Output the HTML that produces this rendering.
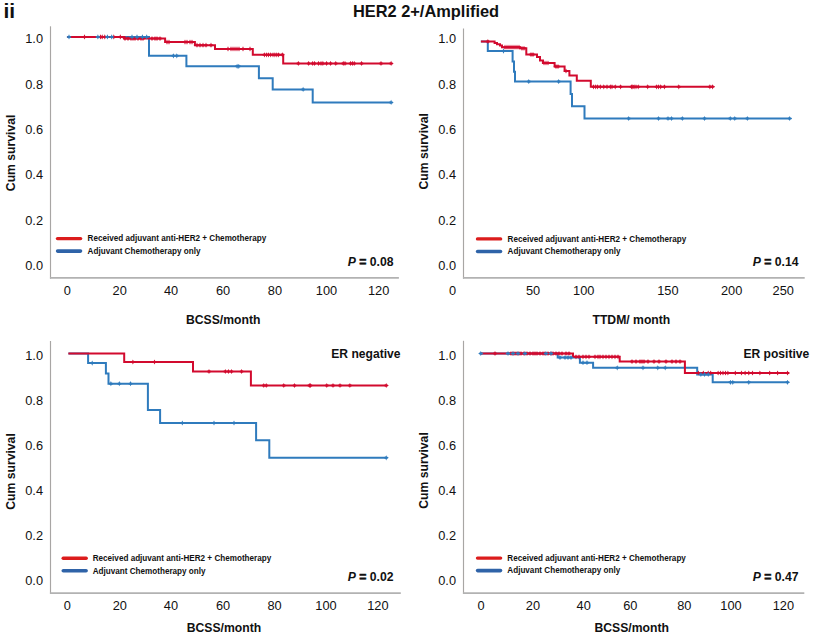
<!DOCTYPE html>
<html><head><meta charset="utf-8"><title>HER2 2+/Amplified</title><style>
html,body{margin:0;padding:0;background:#fff;width:813px;height:636px;overflow:hidden;}
svg{display:block;}
text{font-family:"Liberation Sans", Arial, Helvetica, sans-serif;fill:#111;}
.tk{font-size:12.8px;}
.at{font-size:12.2px;font-weight:bold;}
.lg{font-size:8.15px;font-weight:bold;}
.pv{font-size:12.2px;font-weight:bold;} .eq{stroke:#111;stroke-width:0.55px;}
.sub{font-size:12.1px;font-weight:bold;}
.ttl{font-size:16.4px;font-weight:bold;}
.ii{font-size:21px;font-weight:bold;}
</style></head><body>
<svg width="813" height="636" viewBox="0 0 813 636">
<rect width="813" height="636" fill="#fff"/>
<text x="3.5" y="18" class="ii">ii</text>
<text x="426" y="16.7" text-anchor="middle" class="ttl">HER2 2+/Amplified</text>
<path d="M50.50 26.30V278.70" fill="none" stroke="#a8a6a4" stroke-width="1.15"/>
<path d="M49.95 277.90H398.90" fill="none" stroke="#b2b2b2" stroke-width="1.6"/>
<text x="43.0" y="43.4" text-anchor="end" class="tk">1.0</text>
<text x="43.0" y="88.7" text-anchor="end" class="tk">0.8</text>
<text x="43.0" y="134.0" text-anchor="end" class="tk">0.6</text>
<text x="43.0" y="179.3" text-anchor="end" class="tk">0.4</text>
<text x="43.0" y="224.6" text-anchor="end" class="tk">0.2</text>
<text x="43.0" y="269.9" text-anchor="end" class="tk">0.0</text>
<text x="67.3" y="295.2" text-anchor="middle" class="tk">0</text>
<text x="119.7" y="295.2" text-anchor="middle" class="tk">20</text>
<text x="171.1" y="295.2" text-anchor="middle" class="tk">40</text>
<text x="223.0" y="295.2" text-anchor="middle" class="tk">60</text>
<text x="274.9" y="295.2" text-anchor="middle" class="tk">80</text>
<text x="326.5" y="295.2" text-anchor="middle" class="tk">100</text>
<text x="378.6" y="295.2" text-anchor="middle" class="tk">120</text>
<text transform="translate(15.3 152.9) rotate(-90)" text-anchor="middle" class="at">Cum survival</text>
<text x="223.2" y="323.9" text-anchor="middle" class="at">BCSS/month</text>
<path d="M57.5 238.6H80.6" stroke="#dc1c1c" stroke-width="3.4" stroke-linecap="round"/>
<path d="M57.6 251.1H80.5" stroke="#2f63a8" stroke-width="3.6" stroke-linecap="round"/>
<text x="87.6" y="241.3" class="lg">Received adjuvant anti-HER2 + Chemotherapy</text>
<text x="87.6" y="253.8" class="lg">Adjuvant Chemotherapy only</text>
<text x="393.5" y="265.6" text-anchor="end" class="pv"><tspan font-style="italic">P</tspan> <tspan class="eq">=</tspan> 0.08</text>
<path d="M67.2 36.9 L149.0 36.9 L149.0 55.8 L186.4 55.8 L186.4 66.3 L258.9 66.3 L258.9 78.2 L272.7 78.2 L272.7 89.4 L312.7 89.4 L312.7 102.4 L391.1 102.4" fill="none" stroke="#2f7bbd" stroke-width="2" stroke-linejoin="miter" stroke-linecap="butt"/>
<path d="M67.2 36.9 L124.3 36.9 L124.3 38.6 L165.1 38.6 L165.1 42.1 L194.9 42.1 L194.9 45.2 L215.0 45.2 L215.0 48.9 L252.8 48.9 L252.8 54.8 L283.2 54.8 L283.2 63.4 L391.1 63.4" fill="none" stroke="#d20a2e" stroke-width="2" stroke-linejoin="miter" stroke-linecap="butt"/>
<path d="M84.50 34.30 85.25 35.90 85.80 35.90 87.00 36.90 85.80 37.90 85.25 37.90 84.50 39.50 83.75 37.90 83.20 37.90 82.00 36.90 83.20 35.90 83.75 35.90ZM100.50 34.30 101.25 35.90 101.80 35.90 103.00 36.90 101.80 37.90 101.25 37.90 100.50 39.50 99.75 37.90 99.20 37.90 98.00 36.90 99.20 35.90 99.75 35.90ZM102.20 34.30 102.95 35.90 103.50 35.90 104.70 36.90 103.50 37.90 102.95 37.90 102.20 39.50 101.45 37.90 100.90 37.90 99.70 36.90 100.90 35.90 101.45 35.90ZM104.80 34.30 105.55 35.90 106.10 35.90 107.30 36.90 106.10 37.90 105.55 37.90 104.80 39.50 104.05 37.90 103.50 37.90 102.30 36.90 103.50 35.90 104.05 35.90ZM113.80 34.30 114.55 35.90 115.10 35.90 116.30 36.90 115.10 37.90 114.55 37.90 113.80 39.50 113.05 37.90 112.50 37.90 111.30 36.90 112.50 35.90 113.05 35.90ZM120.30 34.30 121.05 35.90 121.60 35.90 122.80 36.90 121.60 37.90 121.05 37.90 120.30 39.50 119.55 37.90 119.00 37.90 117.80 36.90 119.00 35.90 119.55 35.90ZM125.00 36.00 125.75 37.60 126.30 37.60 127.50 38.60 126.30 39.60 125.75 39.60 125.00 41.20 124.25 39.60 123.70 39.60 122.50 38.60 123.70 37.60 124.25 37.60ZM128.00 36.00 128.75 37.60 129.30 37.60 130.50 38.60 129.30 39.60 128.75 39.60 128.00 41.20 127.25 39.60 126.70 39.60 125.50 38.60 126.70 37.60 127.25 37.60ZM131.00 36.00 131.75 37.60 132.30 37.60 133.50 38.60 132.30 39.60 131.75 39.60 131.00 41.20 130.25 39.60 129.70 39.60 128.50 38.60 129.70 37.60 130.25 37.60ZM133.00 36.00 133.75 37.60 134.30 37.60 135.50 38.60 134.30 39.60 133.75 39.60 133.00 41.20 132.25 39.60 131.70 39.60 130.50 38.60 131.70 37.60 132.25 37.60ZM135.00 36.00 135.75 37.60 136.30 37.60 137.50 38.60 136.30 39.60 135.75 39.60 135.00 41.20 134.25 39.60 133.70 39.60 132.50 38.60 133.70 37.60 134.25 37.60ZM138.00 36.00 138.75 37.60 139.30 37.60 140.50 38.60 139.30 39.60 138.75 39.60 138.00 41.20 137.25 39.60 136.70 39.60 135.50 38.60 136.70 37.60 137.25 37.60ZM141.00 36.00 141.75 37.60 142.30 37.60 143.50 38.60 142.30 39.60 141.75 39.60 141.00 41.20 140.25 39.60 139.70 39.60 138.50 38.60 139.70 37.60 140.25 37.60ZM143.00 36.00 143.75 37.60 144.30 37.60 145.50 38.60 144.30 39.60 143.75 39.60 143.00 41.20 142.25 39.60 141.70 39.60 140.50 38.60 141.70 37.60 142.25 37.60ZM152.00 36.00 152.75 37.60 153.30 37.60 154.50 38.60 153.30 39.60 152.75 39.60 152.00 41.20 151.25 39.60 150.70 39.60 149.50 38.60 150.70 37.60 151.25 37.60ZM155.00 36.00 155.75 37.60 156.30 37.60 157.50 38.60 156.30 39.60 155.75 39.60 155.00 41.20 154.25 39.60 153.70 39.60 152.50 38.60 153.70 37.60 154.25 37.60ZM157.00 36.00 157.75 37.60 158.30 37.60 159.50 38.60 158.30 39.60 157.75 39.60 157.00 41.20 156.25 39.60 155.70 39.60 154.50 38.60 155.70 37.60 156.25 37.60ZM160.00 36.00 160.75 37.60 161.30 37.60 162.50 38.60 161.30 39.60 160.75 39.60 160.00 41.20 159.25 39.60 158.70 39.60 157.50 38.60 158.70 37.60 159.25 37.60ZM167.00 39.50 167.75 41.10 168.30 41.10 169.50 42.10 168.30 43.10 167.75 43.10 167.00 44.70 166.25 43.10 165.70 43.10 164.50 42.10 165.70 41.10 166.25 41.10ZM169.00 39.50 169.75 41.10 170.30 41.10 171.50 42.10 170.30 43.10 169.75 43.10 169.00 44.70 168.25 43.10 167.70 43.10 166.50 42.10 167.70 41.10 168.25 41.10ZM185.00 39.50 185.75 41.10 186.30 41.10 187.50 42.10 186.30 43.10 185.75 43.10 185.00 44.70 184.25 43.10 183.70 43.10 182.50 42.10 183.70 41.10 184.25 41.10ZM187.00 39.50 187.75 41.10 188.30 41.10 189.50 42.10 188.30 43.10 187.75 43.10 187.00 44.70 186.25 43.10 185.70 43.10 184.50 42.10 185.70 41.10 186.25 41.10ZM190.00 39.50 190.75 41.10 191.30 41.10 192.50 42.10 191.30 43.10 190.75 43.10 190.00 44.70 189.25 43.10 188.70 43.10 187.50 42.10 188.70 41.10 189.25 41.10ZM192.00 39.50 192.75 41.10 193.30 41.10 194.50 42.10 193.30 43.10 192.75 43.10 192.00 44.70 191.25 43.10 190.70 43.10 189.50 42.10 190.70 41.10 191.25 41.10ZM197.00 42.60 197.75 44.20 198.30 44.20 199.50 45.20 198.30 46.20 197.75 46.20 197.00 47.80 196.25 46.20 195.70 46.20 194.50 45.20 195.70 44.20 196.25 44.20ZM200.00 42.60 200.75 44.20 201.30 44.20 202.50 45.20 201.30 46.20 200.75 46.20 200.00 47.80 199.25 46.20 198.70 46.20 197.50 45.20 198.70 44.20 199.25 44.20ZM203.00 42.60 203.75 44.20 204.30 44.20 205.50 45.20 204.30 46.20 203.75 46.20 203.00 47.80 202.25 46.20 201.70 46.20 200.50 45.20 201.70 44.20 202.25 44.20ZM206.00 42.60 206.75 44.20 207.30 44.20 208.50 45.20 207.30 46.20 206.75 46.20 206.00 47.80 205.25 46.20 204.70 46.20 203.50 45.20 204.70 44.20 205.25 44.20ZM211.00 42.60 211.75 44.20 212.30 44.20 213.50 45.20 212.30 46.20 211.75 46.20 211.00 47.80 210.25 46.20 209.70 46.20 208.50 45.20 209.70 44.20 210.25 44.20ZM228.00 46.30 228.75 47.90 229.30 47.90 230.50 48.90 229.30 49.90 228.75 49.90 228.00 51.50 227.25 49.90 226.70 49.90 225.50 48.90 226.70 47.90 227.25 47.90ZM231.00 46.30 231.75 47.90 232.30 47.90 233.50 48.90 232.30 49.90 231.75 49.90 231.00 51.50 230.25 49.90 229.70 49.90 228.50 48.90 229.70 47.90 230.25 47.90ZM233.00 46.30 233.75 47.90 234.30 47.90 235.50 48.90 234.30 49.90 233.75 49.90 233.00 51.50 232.25 49.90 231.70 49.90 230.50 48.90 231.70 47.90 232.25 47.90ZM235.00 46.30 235.75 47.90 236.30 47.90 237.50 48.90 236.30 49.90 235.75 49.90 235.00 51.50 234.25 49.90 233.70 49.90 232.50 48.90 233.70 47.90 234.25 47.90ZM237.00 46.30 237.75 47.90 238.30 47.90 239.50 48.90 238.30 49.90 237.75 49.90 237.00 51.50 236.25 49.90 235.70 49.90 234.50 48.90 235.70 47.90 236.25 47.90ZM239.00 46.30 239.75 47.90 240.30 47.90 241.50 48.90 240.30 49.90 239.75 49.90 239.00 51.50 238.25 49.90 237.70 49.90 236.50 48.90 237.70 47.90 238.25 47.90ZM243.00 46.30 243.75 47.90 244.30 47.90 245.50 48.90 244.30 49.90 243.75 49.90 243.00 51.50 242.25 49.90 241.70 49.90 240.50 48.90 241.70 47.90 242.25 47.90ZM250.00 46.30 250.75 47.90 251.30 47.90 252.50 48.90 251.30 49.90 250.75 49.90 250.00 51.50 249.25 49.90 248.70 49.90 247.50 48.90 248.70 47.90 249.25 47.90ZM264.40 52.20 265.15 53.80 265.70 53.80 266.90 54.80 265.70 55.80 265.15 55.80 264.40 57.40 263.65 55.80 263.10 55.80 261.90 54.80 263.10 53.80 263.65 53.80ZM266.60 52.20 267.35 53.80 267.90 53.80 269.10 54.80 267.90 55.80 267.35 55.80 266.60 57.40 265.85 55.80 265.30 55.80 264.10 54.80 265.30 53.80 265.85 53.80ZM268.50 52.20 269.25 53.80 269.80 53.80 271.00 54.80 269.80 55.80 269.25 55.80 268.50 57.40 267.75 55.80 267.20 55.80 266.00 54.80 267.20 53.80 267.75 53.80ZM270.70 52.20 271.45 53.80 272.00 53.80 273.20 54.80 272.00 55.80 271.45 55.80 270.70 57.40 269.95 55.80 269.40 55.80 268.20 54.80 269.40 53.80 269.95 53.80ZM273.00 52.20 273.75 53.80 274.30 53.80 275.50 54.80 274.30 55.80 273.75 55.80 273.00 57.40 272.25 55.80 271.70 55.80 270.50 54.80 271.70 53.80 272.25 53.80ZM274.90 52.20 275.65 53.80 276.20 53.80 277.40 54.80 276.20 55.80 275.65 55.80 274.90 57.40 274.15 55.80 273.60 55.80 272.40 54.80 273.60 53.80 274.15 53.80ZM276.80 52.20 277.55 53.80 278.10 53.80 279.30 54.80 278.10 55.80 277.55 55.80 276.80 57.40 276.05 55.80 275.50 55.80 274.30 54.80 275.50 53.80 276.05 53.80ZM278.60 52.20 279.35 53.80 279.90 53.80 281.10 54.80 279.90 55.80 279.35 55.80 278.60 57.40 277.85 55.80 277.30 55.80 276.10 54.80 277.30 53.80 277.85 53.80ZM282.30 52.20 283.05 53.80 283.60 53.80 284.80 54.80 283.60 55.80 283.05 55.80 282.30 57.40 281.55 55.80 281.00 55.80 279.80 54.80 281.00 53.80 281.55 53.80ZM298.30 60.80 299.05 62.40 299.60 62.40 300.80 63.40 299.60 64.40 299.05 64.40 298.30 66.00 297.55 64.40 297.00 64.40 295.80 63.40 297.00 62.40 297.55 62.40ZM308.70 60.80 309.45 62.40 310.00 62.40 311.20 63.40 310.00 64.40 309.45 64.40 308.70 66.00 307.95 64.40 307.40 64.40 306.20 63.40 307.40 62.40 307.95 62.40ZM312.70 60.80 313.45 62.40 314.00 62.40 315.20 63.40 314.00 64.40 313.45 64.40 312.70 66.00 311.95 64.40 311.40 64.40 310.20 63.40 311.40 62.40 311.95 62.40ZM314.60 60.80 315.35 62.40 315.90 62.40 317.10 63.40 315.90 64.40 315.35 64.40 314.60 66.00 313.85 64.40 313.30 64.40 312.10 63.40 313.30 62.40 313.85 62.40ZM318.60 60.80 319.35 62.40 319.90 62.40 321.10 63.40 319.90 64.40 319.35 64.40 318.60 66.00 317.85 64.40 317.30 64.40 316.10 63.40 317.30 62.40 317.85 62.40ZM321.00 60.80 321.75 62.40 322.30 62.40 323.50 63.40 322.30 64.40 321.75 64.40 321.00 66.00 320.25 64.40 319.70 64.40 318.50 63.40 319.70 62.40 320.25 62.40ZM322.90 60.80 323.65 62.40 324.20 62.40 325.40 63.40 324.20 64.40 323.65 64.40 322.90 66.00 322.15 64.40 321.60 64.40 320.40 63.40 321.60 62.40 322.15 62.40ZM326.60 60.80 327.35 62.40 327.90 62.40 329.10 63.40 327.90 64.40 327.35 64.40 326.60 66.00 325.85 64.40 325.30 64.40 324.10 63.40 325.30 62.40 325.85 62.40ZM330.60 60.80 331.35 62.40 331.90 62.40 333.10 63.40 331.90 64.40 331.35 64.40 330.60 66.00 329.85 64.40 329.30 64.40 328.10 63.40 329.30 62.40 329.85 62.40ZM335.80 60.80 336.55 62.40 337.10 62.40 338.30 63.40 337.10 64.40 336.55 64.40 335.80 66.00 335.05 64.40 334.50 64.40 333.30 63.40 334.50 62.40 335.05 62.40ZM343.20 60.80 343.95 62.40 344.50 62.40 345.70 63.40 344.50 64.40 343.95 64.40 343.20 66.00 342.45 64.40 341.90 64.40 340.70 63.40 341.90 62.40 342.45 62.40ZM345.00 60.80 345.75 62.40 346.30 62.40 347.50 63.40 346.30 64.40 345.75 64.40 345.00 66.00 344.25 64.40 343.70 64.40 342.50 63.40 343.70 62.40 344.25 62.40ZM350.60 60.80 351.35 62.40 351.90 62.40 353.10 63.40 351.90 64.40 351.35 64.40 350.60 66.00 349.85 64.40 349.30 64.40 348.10 63.40 349.30 62.40 349.85 62.40ZM352.40 60.80 353.15 62.40 353.70 62.40 354.90 63.40 353.70 64.40 353.15 64.40 352.40 66.00 351.65 64.40 351.10 64.40 349.90 63.40 351.10 62.40 351.65 62.40ZM354.20 60.80 354.95 62.40 355.50 62.40 356.70 63.40 355.50 64.40 354.95 64.40 354.20 66.00 353.45 64.40 352.90 64.40 351.70 63.40 352.90 62.40 353.45 62.40ZM361.60 60.80 362.35 62.40 362.90 62.40 364.10 63.40 362.90 64.40 362.35 64.40 361.60 66.00 360.85 64.40 360.30 64.40 359.10 63.40 360.30 62.40 360.85 62.40ZM381.00 60.80 381.75 62.40 382.30 62.40 383.50 63.40 382.30 64.40 381.75 64.40 381.00 66.00 380.25 64.40 379.70 64.40 378.50 63.40 379.70 62.40 380.25 62.40ZM391.10 60.80 391.85 62.40 392.40 62.40 393.60 63.40 392.40 64.40 391.85 64.40 391.10 66.00 390.35 64.40 389.80 64.40 388.60 63.40 389.80 62.40 390.35 62.40Z" fill="#d20a2e"/>
<path d="M69.00 34.30 69.75 35.90 70.30 35.90 71.50 36.90 70.30 37.90 69.75 37.90 69.00 39.50 68.25 37.90 67.70 37.90 66.50 36.90 67.70 35.90 68.25 35.90ZM97.90 34.30 98.65 35.90 99.20 35.90 100.40 36.90 99.20 37.90 98.65 37.90 97.90 39.50 97.15 37.90 96.60 37.90 95.40 36.90 96.60 35.90 97.15 35.90ZM107.40 34.30 108.15 35.90 108.70 35.90 109.90 36.90 108.70 37.90 108.15 37.90 107.40 39.50 106.65 37.90 106.10 37.90 104.90 36.90 106.10 35.90 106.65 35.90ZM111.70 34.30 112.45 35.90 113.00 35.90 114.20 36.90 113.00 37.90 112.45 37.90 111.70 39.50 110.95 37.90 110.40 37.90 109.20 36.90 110.40 35.90 110.95 35.90ZM132.00 34.30 132.75 35.90 133.30 35.90 134.50 36.90 133.30 37.90 132.75 37.90 132.00 39.50 131.25 37.90 130.70 37.90 129.50 36.90 130.70 35.90 131.25 35.90ZM137.00 34.30 137.75 35.90 138.30 35.90 139.50 36.90 138.30 37.90 137.75 37.90 137.00 39.50 136.25 37.90 135.70 37.90 134.50 36.90 135.70 35.90 136.25 35.90ZM142.40 34.30 143.15 35.90 143.70 35.90 144.90 36.90 143.70 37.90 143.15 37.90 142.40 39.50 141.65 37.90 141.10 37.90 139.90 36.90 141.10 35.90 141.65 35.90ZM146.70 34.30 147.45 35.90 148.00 35.90 149.20 36.90 148.00 37.90 147.45 37.90 146.70 39.50 145.95 37.90 145.40 37.90 144.20 36.90 145.40 35.90 145.95 35.90ZM173.40 53.20 174.15 54.80 174.70 54.80 175.90 55.80 174.70 56.80 174.15 56.80 173.40 58.40 172.65 56.80 172.10 56.80 170.90 55.80 172.10 54.80 172.65 54.80ZM176.80 53.20 177.55 54.80 178.10 54.80 179.30 55.80 178.10 56.80 177.55 56.80 176.80 58.40 176.05 56.80 175.50 56.80 174.30 55.80 175.50 54.80 176.05 54.80ZM237.10 63.70 237.85 65.30 238.40 65.30 239.60 66.30 238.40 67.30 237.85 67.30 237.10 68.90 236.35 67.30 235.80 67.30 234.60 66.30 235.80 65.30 236.35 65.30ZM238.80 63.70 239.55 65.30 240.10 65.30 241.30 66.30 240.10 67.30 239.55 67.30 238.80 68.90 238.05 67.30 237.50 67.30 236.30 66.30 237.50 65.30 238.05 65.30ZM303.10 86.80 303.85 88.40 304.40 88.40 305.60 89.40 304.40 90.40 303.85 90.40 303.10 92.00 302.35 90.40 301.80 90.40 300.60 89.40 301.80 88.40 302.35 88.40ZM391.10 99.80 391.85 101.40 392.40 101.40 393.60 102.40 392.40 103.40 391.85 103.40 391.10 105.00 390.35 103.40 389.80 103.40 388.60 102.40 389.80 101.40 390.35 101.40Z" fill="#2f7bbd"/>
<path d="M463.50 28.50V278.70" fill="none" stroke="#a8a6a4" stroke-width="1.15"/>
<path d="M462.95 277.90H804.70" fill="none" stroke="#b2b2b2" stroke-width="1.6"/>
<text x="456.0" y="43.4" text-anchor="end" class="tk">1.0</text>
<text x="456.0" y="88.7" text-anchor="end" class="tk">0.8</text>
<text x="456.0" y="134.0" text-anchor="end" class="tk">0.6</text>
<text x="456.0" y="179.3" text-anchor="end" class="tk">0.4</text>
<text x="456.0" y="224.6" text-anchor="end" class="tk">0.2</text>
<text x="456.0" y="269.9" text-anchor="end" class="tk">0.0</text>
<text x="452.6" y="295.3" text-anchor="middle" class="tk">0</text>
<text x="533.0" y="295.3" text-anchor="middle" class="tk">50</text>
<text x="583.7" y="295.3" text-anchor="middle" class="tk">100</text>
<text x="667.9" y="295.3" text-anchor="middle" class="tk">150</text>
<text x="731.6" y="295.3" text-anchor="middle" class="tk">200</text>
<text x="783.2" y="295.3" text-anchor="middle" class="tk">250</text>
<text transform="translate(428.3 151.3) rotate(-90)" text-anchor="middle" class="at">Cum survival</text>
<text x="631.4" y="323.7" text-anchor="middle" class="at">TTDM/ month</text>
<path d="M477.5 238.9H500.6" stroke="#dc1c1c" stroke-width="3.4" stroke-linecap="round"/>
<path d="M477.6 251.5H500.5" stroke="#2f63a8" stroke-width="3.6" stroke-linecap="round"/>
<text x="507.6" y="241.8" class="lg">Received adjuvant anti-HER2 + Chemotherapy</text>
<text x="507.6" y="254.4" class="lg">Adjuvant Chemotherapy only</text>
<text x="798.5" y="266.1" text-anchor="end" class="pv"><tspan font-style="italic">P</tspan> <tspan class="eq">=</tspan> 0.14</text>
<path d="M480.9 41.5 L487.8 41.5 L487.8 51.1 L512.6 51.1 L512.6 61.4 L514.0 61.4 L514.0 71.7 L515.0 71.7 L515.0 81.6 L570.6 81.6 L570.6 93.9 L572.0 93.9 L572.0 106.3 L584.5 106.3 L584.5 118.5 L789.7 118.5" fill="none" stroke="#2f7bbd" stroke-width="2" stroke-linejoin="miter" stroke-linecap="butt"/>
<path d="M480.9 41.5 L494.6 41.5 L494.6 43.0 L497.0 43.0 L497.0 44.2 L500.0 44.2 L500.0 45.5 L502.0 45.5 L502.0 47.2 L520.0 47.2 L520.0 48.3 L526.3 48.3 L526.3 54.6 L537.0 54.6 L537.0 57.0 L540.0 57.0 L540.0 60.5 L543.0 60.5 L543.0 63.0 L554.6 63.0 L554.6 66.6 L564.6 66.6 L564.6 71.0 L569.4 71.0 L569.4 75.4 L576.8 75.4 L576.8 80.7 L590.8 80.7 L590.8 86.8 L712.6 86.8" fill="none" stroke="#d20a2e" stroke-width="2" stroke-linejoin="miter" stroke-linecap="butt"/>
<path d="M487.90 38.90 488.65 40.50 489.20 40.50 490.40 41.50 489.20 42.50 488.65 42.50 487.90 44.10 487.15 42.50 486.60 42.50 485.40 41.50 486.60 40.50 487.15 40.50ZM505.00 44.60 505.75 46.20 506.30 46.20 507.50 47.20 506.30 48.20 505.75 48.20 505.00 49.80 504.25 48.20 503.70 48.20 502.50 47.20 503.70 46.20 504.25 46.20ZM507.00 44.60 507.75 46.20 508.30 46.20 509.50 47.20 508.30 48.20 507.75 48.20 507.00 49.80 506.25 48.20 505.70 48.20 504.50 47.20 505.70 46.20 506.25 46.20ZM509.00 44.60 509.75 46.20 510.30 46.20 511.50 47.20 510.30 48.20 509.75 48.20 509.00 49.80 508.25 48.20 507.70 48.20 506.50 47.20 507.70 46.20 508.25 46.20ZM511.00 44.60 511.75 46.20 512.30 46.20 513.50 47.20 512.30 48.20 511.75 48.20 511.00 49.80 510.25 48.20 509.70 48.20 508.50 47.20 509.70 46.20 510.25 46.20ZM513.00 44.60 513.75 46.20 514.30 46.20 515.50 47.20 514.30 48.20 513.75 48.20 513.00 49.80 512.25 48.20 511.70 48.20 510.50 47.20 511.70 46.20 512.25 46.20ZM515.00 44.60 515.75 46.20 516.30 46.20 517.50 47.20 516.30 48.20 515.75 48.20 515.00 49.80 514.25 48.20 513.70 48.20 512.50 47.20 513.70 46.20 514.25 46.20ZM517.00 44.60 517.75 46.20 518.30 46.20 519.50 47.20 518.30 48.20 517.75 48.20 517.00 49.80 516.25 48.20 515.70 48.20 514.50 47.20 515.70 46.20 516.25 46.20ZM519.00 44.60 519.75 46.20 520.30 46.20 521.50 47.20 520.30 48.20 519.75 48.20 519.00 49.80 518.25 48.20 517.70 48.20 516.50 47.20 517.70 46.20 518.25 46.20ZM522.00 45.70 522.75 47.30 523.30 47.30 524.50 48.30 523.30 49.30 522.75 49.30 522.00 50.90 521.25 49.30 520.70 49.30 519.50 48.30 520.70 47.30 521.25 47.30ZM524.00 45.70 524.75 47.30 525.30 47.30 526.50 48.30 525.30 49.30 524.75 49.30 524.00 50.90 523.25 49.30 522.70 49.30 521.50 48.30 522.70 47.30 523.25 47.30ZM531.00 52.00 531.75 53.60 532.30 53.60 533.50 54.60 532.30 55.60 531.75 55.60 531.00 57.20 530.25 55.60 529.70 55.60 528.50 54.60 529.70 53.60 530.25 53.60ZM533.00 52.00 533.75 53.60 534.30 53.60 535.50 54.60 534.30 55.60 533.75 55.60 533.00 57.20 532.25 55.60 531.70 55.60 530.50 54.60 531.70 53.60 532.25 53.60ZM544.00 60.40 544.75 62.00 545.30 62.00 546.50 63.00 545.30 64.00 544.75 64.00 544.00 65.60 543.25 64.00 542.70 64.00 541.50 63.00 542.70 62.00 543.25 62.00ZM546.00 60.40 546.75 62.00 547.30 62.00 548.50 63.00 547.30 64.00 546.75 64.00 546.00 65.60 545.25 64.00 544.70 64.00 543.50 63.00 544.70 62.00 545.25 62.00ZM548.00 60.40 548.75 62.00 549.30 62.00 550.50 63.00 549.30 64.00 548.75 64.00 548.00 65.60 547.25 64.00 546.70 64.00 545.50 63.00 546.70 62.00 547.25 62.00ZM556.00 64.00 556.75 65.60 557.30 65.60 558.50 66.60 557.30 67.60 556.75 67.60 556.00 69.20 555.25 67.60 554.70 67.60 553.50 66.60 554.70 65.60 555.25 65.60ZM558.00 64.00 558.75 65.60 559.30 65.60 560.50 66.60 559.30 67.60 558.75 67.60 558.00 69.20 557.25 67.60 556.70 67.60 555.50 66.60 556.70 65.60 557.25 65.60ZM566.00 68.40 566.75 70.00 567.30 70.00 568.50 71.00 567.30 72.00 566.75 72.00 566.00 73.60 565.25 72.00 564.70 72.00 563.50 71.00 564.70 70.00 565.25 70.00ZM593.50 84.20 594.25 85.80 594.80 85.80 596.00 86.80 594.80 87.80 594.25 87.80 593.50 89.40 592.75 87.80 592.20 87.80 591.00 86.80 592.20 85.80 592.75 85.80ZM595.70 84.20 596.45 85.80 597.00 85.80 598.20 86.80 597.00 87.80 596.45 87.80 595.70 89.40 594.95 87.80 594.40 87.80 593.20 86.80 594.40 85.80 594.95 85.80ZM597.60 84.20 598.35 85.80 598.90 85.80 600.10 86.80 598.90 87.80 598.35 87.80 597.60 89.40 596.85 87.80 596.30 87.80 595.10 86.80 596.30 85.80 596.85 85.80ZM600.30 84.20 601.05 85.80 601.60 85.80 602.80 86.80 601.60 87.80 601.05 87.80 600.30 89.40 599.55 87.80 599.00 87.80 597.80 86.80 599.00 85.80 599.55 85.80ZM603.80 84.20 604.55 85.80 605.10 85.80 606.30 86.80 605.10 87.80 604.55 87.80 603.80 89.40 603.05 87.80 602.50 87.80 601.30 86.80 602.50 85.80 603.05 85.80ZM607.00 84.20 607.75 85.80 608.30 85.80 609.50 86.80 608.30 87.80 607.75 87.80 607.00 89.40 606.25 87.80 605.70 87.80 604.50 86.80 605.70 85.80 606.25 85.80ZM610.30 84.20 611.05 85.80 611.60 85.80 612.80 86.80 611.60 87.80 611.05 87.80 610.30 89.40 609.55 87.80 609.00 87.80 607.80 86.80 609.00 85.80 609.55 85.80ZM612.00 84.20 612.75 85.80 613.30 85.80 614.50 86.80 613.30 87.80 612.75 87.80 612.00 89.40 611.25 87.80 610.70 87.80 609.50 86.80 610.70 85.80 611.25 85.80ZM615.20 84.20 615.95 85.80 616.50 85.80 617.70 86.80 616.50 87.80 615.95 87.80 615.20 89.40 614.45 87.80 613.90 87.80 612.70 86.80 613.90 85.80 614.45 85.80ZM620.60 84.20 621.35 85.80 621.90 85.80 623.10 86.80 621.90 87.80 621.35 87.80 620.60 89.40 619.85 87.80 619.30 87.80 618.10 86.80 619.30 85.80 619.85 85.80ZM631.40 84.20 632.15 85.80 632.70 85.80 633.90 86.80 632.70 87.80 632.15 87.80 631.40 89.40 630.65 87.80 630.10 87.80 628.90 86.80 630.10 85.80 630.65 85.80ZM632.80 84.20 633.55 85.80 634.10 85.80 635.30 86.80 634.10 87.80 633.55 87.80 632.80 89.40 632.05 87.80 631.50 87.80 630.30 86.80 631.50 85.80 632.05 85.80ZM634.10 84.20 634.85 85.80 635.40 85.80 636.60 86.80 635.40 87.80 634.85 87.80 634.10 89.40 633.35 87.80 632.80 87.80 631.60 86.80 632.80 85.80 633.35 85.80ZM636.00 84.20 636.75 85.80 637.30 85.80 638.50 86.80 637.30 87.80 636.75 87.80 636.00 89.40 635.25 87.80 634.70 87.80 633.50 86.80 634.70 85.80 635.25 85.80ZM638.20 84.20 638.95 85.80 639.50 85.80 640.70 86.80 639.50 87.80 638.95 87.80 638.20 89.40 637.45 87.80 636.90 87.80 635.70 86.80 636.90 85.80 637.45 85.80ZM647.70 84.20 648.45 85.80 649.00 85.80 650.20 86.80 649.00 87.80 648.45 87.80 647.70 89.40 646.95 87.80 646.40 87.80 645.20 86.80 646.40 85.80 646.95 85.80ZM656.60 84.20 657.35 85.80 657.90 85.80 659.10 86.80 657.90 87.80 657.35 87.80 656.60 89.40 655.85 87.80 655.30 87.80 654.10 86.80 655.30 85.80 655.85 85.80ZM658.50 84.20 659.25 85.80 659.80 85.80 661.00 86.80 659.80 87.80 659.25 87.80 658.50 89.40 657.75 87.80 657.20 87.80 656.00 86.80 657.20 85.80 657.75 85.80ZM660.70 84.20 661.45 85.80 662.00 85.80 663.20 86.80 662.00 87.80 661.45 87.80 660.70 89.40 659.95 87.80 659.40 87.80 658.20 86.80 659.40 85.80 659.95 85.80ZM664.40 84.20 665.15 85.80 665.70 85.80 666.90 86.80 665.70 87.80 665.15 87.80 664.40 89.40 663.65 87.80 663.10 87.80 661.90 86.80 663.10 85.80 663.65 85.80ZM678.80 84.20 679.55 85.80 680.10 85.80 681.30 86.80 680.10 87.80 679.55 87.80 678.80 89.40 678.05 87.80 677.50 87.80 676.30 86.80 677.50 85.80 678.05 85.80ZM709.90 84.20 710.65 85.80 711.20 85.80 712.40 86.80 711.20 87.80 710.65 87.80 709.90 89.40 709.15 87.80 708.60 87.80 707.40 86.80 708.60 85.80 709.15 85.80ZM712.60 84.20 713.35 85.80 713.90 85.80 715.10 86.80 713.90 87.80 713.35 87.80 712.60 89.40 711.85 87.80 711.30 87.80 710.10 86.80 711.30 85.80 711.85 85.80Z" fill="#d20a2e"/>
<path d="M503.50 48.50 504.25 50.10 504.80 50.10 506.00 51.10 504.80 52.10 504.25 52.10 503.50 53.70 502.75 52.10 502.20 52.10 501.00 51.10 502.20 50.10 502.75 50.10ZM528.80 79.00 529.55 80.60 530.10 80.60 531.30 81.60 530.10 82.60 529.55 82.60 528.80 84.20 528.05 82.60 527.50 82.60 526.30 81.60 527.50 80.60 528.05 80.60ZM558.70 79.00 559.45 80.60 560.00 80.60 561.20 81.60 560.00 82.60 559.45 82.60 558.70 84.20 557.95 82.60 557.40 82.60 556.20 81.60 557.40 80.60 557.95 80.60ZM628.70 115.90 629.45 117.50 630.00 117.50 631.20 118.50 630.00 119.50 629.45 119.50 628.70 121.10 627.95 119.50 627.40 119.50 626.20 118.50 627.40 117.50 627.95 117.50ZM658.50 115.90 659.25 117.50 659.80 117.50 661.00 118.50 659.80 119.50 659.25 119.50 658.50 121.10 657.75 119.50 657.20 119.50 656.00 118.50 657.20 117.50 657.75 117.50ZM668.00 115.90 668.75 117.50 669.30 117.50 670.50 118.50 669.30 119.50 668.75 119.50 668.00 121.10 667.25 119.50 666.70 119.50 665.50 118.50 666.70 117.50 667.25 117.50ZM671.50 115.90 672.25 117.50 672.80 117.50 674.00 118.50 672.80 119.50 672.25 119.50 671.50 121.10 670.75 119.50 670.20 119.50 669.00 118.50 670.20 117.50 670.75 117.50ZM682.30 115.90 683.05 117.50 683.60 117.50 684.80 118.50 683.60 119.50 683.05 119.50 682.30 121.10 681.55 119.50 681.00 119.50 679.80 118.50 681.00 117.50 681.55 117.50ZM704.50 115.90 705.25 117.50 705.80 117.50 707.00 118.50 705.80 119.50 705.25 119.50 704.50 121.10 703.75 119.50 703.20 119.50 702.00 118.50 703.20 117.50 703.75 117.50ZM730.20 115.90 730.95 117.50 731.50 117.50 732.70 118.50 731.50 119.50 730.95 119.50 730.20 121.10 729.45 119.50 728.90 119.50 727.70 118.50 728.90 117.50 729.45 117.50ZM734.80 115.90 735.55 117.50 736.10 117.50 737.30 118.50 736.10 119.50 735.55 119.50 734.80 121.10 734.05 119.50 733.50 119.50 732.30 118.50 733.50 117.50 734.05 117.50ZM747.30 115.90 748.05 117.50 748.60 117.50 749.80 118.50 748.60 119.50 748.05 119.50 747.30 121.10 746.55 119.50 746.00 119.50 744.80 118.50 746.00 117.50 746.55 117.50ZM789.70 115.90 790.45 117.50 791.00 117.50 792.20 118.50 791.00 119.50 790.45 119.50 789.70 121.10 788.95 119.50 788.40 119.50 787.20 118.50 788.40 117.50 788.95 117.50Z" fill="#2f7bbd"/>
<path d="M50.50 341.00V593.90" fill="none" stroke="#a8a6a4" stroke-width="1.15"/>
<path d="M49.95 593.10H400.80" fill="none" stroke="#b2b2b2" stroke-width="1.6"/>
<text x="43.0" y="360.1" text-anchor="end" class="tk">1.0</text>
<text x="43.0" y="405.2" text-anchor="end" class="tk">0.8</text>
<text x="43.0" y="450.2" text-anchor="end" class="tk">0.6</text>
<text x="43.0" y="495.2" text-anchor="end" class="tk">0.4</text>
<text x="43.0" y="540.3" text-anchor="end" class="tk">0.2</text>
<text x="43.0" y="585.4" text-anchor="end" class="tk">0.0</text>
<text x="67.3" y="610.1" text-anchor="middle" class="tk">0</text>
<text x="119.8" y="610.1" text-anchor="middle" class="tk">20</text>
<text x="170.9" y="610.1" text-anchor="middle" class="tk">40</text>
<text x="223.1" y="610.1" text-anchor="middle" class="tk">60</text>
<text x="274.6" y="610.1" text-anchor="middle" class="tk">80</text>
<text x="326.0" y="610.1" text-anchor="middle" class="tk">100</text>
<text x="377.9" y="610.1" text-anchor="middle" class="tk">120</text>
<text transform="translate(15.4 471.5) rotate(-90)" text-anchor="middle" class="at">Cum survival</text>
<text x="223.9" y="631.6" text-anchor="middle" class="at">BCSS/month</text>
<path d="M63.2 558.3H86.2" stroke="#dc1c1c" stroke-width="3.4" stroke-linecap="round"/>
<path d="M63.3 570.8H86.1" stroke="#2f63a8" stroke-width="3.6" stroke-linecap="round"/>
<text x="92.7" y="561.1" class="lg">Received adjuvant anti-HER2 + Chemotherapy</text>
<text x="92.7" y="573.6" class="lg">Adjuvant Chemotherapy only</text>
<text x="393.5" y="581.3" text-anchor="end" class="pv"><tspan font-style="italic">P</tspan> <tspan class="eq">=</tspan> 0.02</text>
<text x="400.5" y="357.7" text-anchor="end" class="sub">ER negative</text>
<path d="M68.4 353.4 L88.1 353.4 L88.1 363.1 L105.9 363.1 L105.9 373.5 L108.5 373.5 L108.5 383.7 L147.9 383.7 L147.9 409.9 L160.1 409.9 L160.1 423.0 L256.1 423.0 L256.1 440.2 L269.3 440.2 L269.3 457.8 L386.2 457.8" fill="none" stroke="#2f7bbd" stroke-width="2" stroke-linejoin="miter" stroke-linecap="butt"/>
<path d="M68.4 353.4 L124.2 353.4 L124.2 362.0 L193.0 362.0 L193.0 371.5 L250.9 371.5 L250.9 385.5 L386.2 385.5" fill="none" stroke="#d20a2e" stroke-width="2" stroke-linejoin="miter" stroke-linecap="butt"/>
<path d="M132.90 359.40 133.65 361.00 134.20 361.00 135.40 362.00 134.20 363.00 133.65 363.00 132.90 364.60 132.15 363.00 131.60 363.00 130.40 362.00 131.60 361.00 132.15 361.00ZM154.50 359.40 155.25 361.00 155.80 361.00 157.00 362.00 155.80 363.00 155.25 363.00 154.50 364.60 153.75 363.00 153.20 363.00 152.00 362.00 153.20 361.00 153.75 361.00ZM209.00 368.90 209.75 370.50 210.30 370.50 211.50 371.50 210.30 372.50 209.75 372.50 209.00 374.10 208.25 372.50 207.70 372.50 206.50 371.50 207.70 370.50 208.25 370.50ZM225.30 368.90 226.05 370.50 226.60 370.50 227.80 371.50 226.60 372.50 226.05 372.50 225.30 374.10 224.55 372.50 224.00 372.50 222.80 371.50 224.00 370.50 224.55 370.50ZM228.40 368.90 229.15 370.50 229.70 370.50 230.90 371.50 229.70 372.50 229.15 372.50 228.40 374.10 227.65 372.50 227.10 372.50 225.90 371.50 227.10 370.50 227.65 370.50ZM231.50 368.90 232.25 370.50 232.80 370.50 234.00 371.50 232.80 372.50 232.25 372.50 231.50 374.10 230.75 372.50 230.20 372.50 229.00 371.50 230.20 370.50 230.75 370.50ZM241.60 368.90 242.35 370.50 242.90 370.50 244.10 371.50 242.90 372.50 242.35 372.50 241.60 374.10 240.85 372.50 240.30 372.50 239.10 371.50 240.30 370.50 240.85 370.50ZM263.80 382.90 264.55 384.50 265.10 384.50 266.30 385.50 265.10 386.50 264.55 386.50 263.80 388.10 263.05 386.50 262.50 386.50 261.30 385.50 262.50 384.50 263.05 384.50ZM266.20 382.90 266.95 384.50 267.50 384.50 268.70 385.50 267.50 386.50 266.95 386.50 266.20 388.10 265.45 386.50 264.90 386.50 263.70 385.50 264.90 384.50 265.45 384.50ZM283.80 382.90 284.55 384.50 285.10 384.50 286.30 385.50 285.10 386.50 284.55 386.50 283.80 388.10 283.05 386.50 282.50 386.50 281.30 385.50 282.50 384.50 283.05 384.50ZM294.50 382.90 295.25 384.50 295.80 384.50 297.00 385.50 295.80 386.50 295.25 386.50 294.50 388.10 293.75 386.50 293.20 386.50 292.00 385.50 293.20 384.50 293.75 384.50ZM309.30 382.90 310.05 384.50 310.60 384.50 311.80 385.50 310.60 386.50 310.05 386.50 309.30 388.10 308.55 386.50 308.00 386.50 306.80 385.50 308.00 384.50 308.55 384.50ZM310.50 382.90 311.25 384.50 311.80 384.50 313.00 385.50 311.80 386.50 311.25 386.50 310.50 388.10 309.75 386.50 309.20 386.50 308.00 385.50 309.20 384.50 309.75 384.50ZM326.80 382.90 327.55 384.50 328.10 384.50 329.30 385.50 328.10 386.50 327.55 386.50 326.80 388.10 326.05 386.50 325.50 386.50 324.30 385.50 325.50 384.50 326.05 384.50ZM333.00 382.90 333.75 384.50 334.30 384.50 335.50 385.50 334.30 386.50 333.75 386.50 333.00 388.10 332.25 386.50 331.70 386.50 330.50 385.50 331.70 384.50 332.25 384.50ZM340.00 382.90 340.75 384.50 341.30 384.50 342.50 385.50 341.30 386.50 340.75 386.50 340.00 388.10 339.25 386.50 338.70 386.50 337.50 385.50 338.70 384.50 339.25 384.50ZM349.90 382.90 350.65 384.50 351.20 384.50 352.40 385.50 351.20 386.50 350.65 386.50 349.90 388.10 349.15 386.50 348.60 386.50 347.40 385.50 348.60 384.50 349.15 384.50ZM386.20 382.90 386.95 384.50 387.50 384.50 388.70 385.50 387.50 386.50 386.95 386.50 386.20 388.10 385.45 386.50 384.90 386.50 383.70 385.50 384.90 384.50 385.45 384.50Z" fill="#d20a2e"/>
<path d="M92.20 360.50 92.95 362.10 93.50 362.10 94.70 363.10 93.50 364.10 92.95 364.10 92.20 365.70 91.45 364.10 90.90 364.10 89.70 363.10 90.90 362.10 91.45 362.10ZM110.90 381.10 111.65 382.70 112.20 382.70 113.40 383.70 112.20 384.70 111.65 384.70 110.90 386.30 110.15 384.70 109.60 384.70 108.40 383.70 109.60 382.70 110.15 382.70ZM119.30 381.10 120.05 382.70 120.60 382.70 121.80 383.70 120.60 384.70 120.05 384.70 119.30 386.30 118.55 384.70 118.00 384.70 116.80 383.70 118.00 382.70 118.55 382.70ZM130.50 381.10 131.25 382.70 131.80 382.70 133.00 383.70 131.80 384.70 131.25 384.70 130.50 386.30 129.75 384.70 129.20 384.70 128.00 383.70 129.20 382.70 129.75 382.70ZM182.30 420.40 183.05 422.00 183.60 422.00 184.80 423.00 183.60 424.00 183.05 424.00 182.30 425.60 181.55 424.00 181.00 424.00 179.80 423.00 181.00 422.00 181.55 422.00ZM214.00 420.40 214.75 422.00 215.30 422.00 216.50 423.00 215.30 424.00 214.75 424.00 214.00 425.60 213.25 424.00 212.70 424.00 211.50 423.00 212.70 422.00 213.25 422.00ZM234.00 420.40 234.75 422.00 235.30 422.00 236.50 423.00 235.30 424.00 234.75 424.00 234.00 425.60 233.25 424.00 232.70 424.00 231.50 423.00 232.70 422.00 233.25 422.00ZM386.20 455.20 386.95 456.80 387.50 456.80 388.70 457.80 387.50 458.80 386.95 458.80 386.20 460.40 385.45 458.80 384.90 458.80 383.70 457.80 384.90 456.80 385.45 456.80Z" fill="#2f7bbd"/>
<path d="M463.50 340.80V593.90" fill="none" stroke="#a8a6a4" stroke-width="1.15"/>
<path d="M462.95 593.10H804.30" fill="none" stroke="#b2b2b2" stroke-width="1.6"/>
<text x="456.0" y="360.1" text-anchor="end" class="tk">1.0</text>
<text x="456.0" y="405.2" text-anchor="end" class="tk">0.8</text>
<text x="456.0" y="450.2" text-anchor="end" class="tk">0.6</text>
<text x="456.0" y="495.2" text-anchor="end" class="tk">0.4</text>
<text x="456.0" y="540.3" text-anchor="end" class="tk">0.2</text>
<text x="456.0" y="585.4" text-anchor="end" class="tk">0.0</text>
<text x="481.0" y="610.0" text-anchor="middle" class="tk">0</text>
<text x="532.9" y="610.0" text-anchor="middle" class="tk">20</text>
<text x="583.7" y="610.0" text-anchor="middle" class="tk">40</text>
<text x="630.3" y="610.0" text-anchor="middle" class="tk">60</text>
<text x="684.3" y="610.0" text-anchor="middle" class="tk">80</text>
<text x="731.0" y="610.0" text-anchor="middle" class="tk">100</text>
<text x="783.4" y="610.0" text-anchor="middle" class="tk">120</text>
<text transform="translate(428.3 470.5) rotate(-90)" text-anchor="middle" class="at">Cum survival</text>
<text x="631.7" y="631.6" text-anchor="middle" class="at">BCSS/month</text>
<path d="M477.5 558.1H500.6" stroke="#dc1c1c" stroke-width="3.4" stroke-linecap="round"/>
<path d="M477.6 570.6H500.5" stroke="#2f63a8" stroke-width="3.6" stroke-linecap="round"/>
<text x="507.3" y="561.0" class="lg">Received adjuvant anti-HER2 + Chemotherapy</text>
<text x="507.3" y="573.3" class="lg">Adjuvant Chemotherapy only</text>
<text x="798.5" y="581.2" text-anchor="end" class="pv"><tspan font-style="italic">P</tspan> <tspan class="eq">=</tspan> 0.47</text>
<text x="809.3" y="357.6" text-anchor="end" class="sub">ER positive</text>
<path d="M480.9 353.5 L557.7 353.5 L557.7 357.6 L579.9 357.6 L579.9 362.7 L593.1 362.7 L593.1 367.8 L697.2 367.8 L697.2 374.4 L712.7 374.4 L712.7 382.3 L787.5 382.3" fill="none" stroke="#2f7bbd" stroke-width="2" stroke-linejoin="miter" stroke-linecap="butt"/>
<path d="M480.9 353.5 L573.0 353.5 L573.0 356.8 L619.7 356.8 L619.7 361.6 L684.9 361.6 L684.9 373.0 L787.5 373.0" fill="none" stroke="#d20a2e" stroke-width="2" stroke-linejoin="miter" stroke-linecap="butt"/>
<path d="M495.00 350.90 495.75 352.50 496.30 352.50 497.50 353.50 496.30 354.50 495.75 354.50 495.00 356.10 494.25 354.50 493.70 354.50 492.50 353.50 493.70 352.50 494.25 352.50ZM511.00 350.90 511.75 352.50 512.30 352.50 513.50 353.50 512.30 354.50 511.75 354.50 511.00 356.10 510.25 354.50 509.70 354.50 508.50 353.50 509.70 352.50 510.25 352.50ZM513.00 350.90 513.75 352.50 514.30 352.50 515.50 353.50 514.30 354.50 513.75 354.50 513.00 356.10 512.25 354.50 511.70 354.50 510.50 353.50 511.70 352.50 512.25 352.50ZM515.00 350.90 515.75 352.50 516.30 352.50 517.50 353.50 516.30 354.50 515.75 354.50 515.00 356.10 514.25 354.50 513.70 354.50 512.50 353.50 513.70 352.50 514.25 352.50ZM517.00 350.90 517.75 352.50 518.30 352.50 519.50 353.50 518.30 354.50 517.75 354.50 517.00 356.10 516.25 354.50 515.70 354.50 514.50 353.50 515.70 352.50 516.25 352.50ZM519.00 350.90 519.75 352.50 520.30 352.50 521.50 353.50 520.30 354.50 519.75 354.50 519.00 356.10 518.25 354.50 517.70 354.50 516.50 353.50 517.70 352.50 518.25 352.50ZM521.00 350.90 521.75 352.50 522.30 352.50 523.50 353.50 522.30 354.50 521.75 354.50 521.00 356.10 520.25 354.50 519.70 354.50 518.50 353.50 519.70 352.50 520.25 352.50ZM524.00 350.90 524.75 352.50 525.30 352.50 526.50 353.50 525.30 354.50 524.75 354.50 524.00 356.10 523.25 354.50 522.70 354.50 521.50 353.50 522.70 352.50 523.25 352.50ZM527.00 350.90 527.75 352.50 528.30 352.50 529.50 353.50 528.30 354.50 527.75 354.50 527.00 356.10 526.25 354.50 525.70 354.50 524.50 353.50 525.70 352.50 526.25 352.50ZM530.00 350.90 530.75 352.50 531.30 352.50 532.50 353.50 531.30 354.50 530.75 354.50 530.00 356.10 529.25 354.50 528.70 354.50 527.50 353.50 528.70 352.50 529.25 352.50ZM533.00 350.90 533.75 352.50 534.30 352.50 535.50 353.50 534.30 354.50 533.75 354.50 533.00 356.10 532.25 354.50 531.70 354.50 530.50 353.50 531.70 352.50 532.25 352.50ZM535.00 350.90 535.75 352.50 536.30 352.50 537.50 353.50 536.30 354.50 535.75 354.50 535.00 356.10 534.25 354.50 533.70 354.50 532.50 353.50 533.70 352.50 534.25 352.50ZM537.00 350.90 537.75 352.50 538.30 352.50 539.50 353.50 538.30 354.50 537.75 354.50 537.00 356.10 536.25 354.50 535.70 354.50 534.50 353.50 535.70 352.50 536.25 352.50ZM540.00 350.90 540.75 352.50 541.30 352.50 542.50 353.50 541.30 354.50 540.75 354.50 540.00 356.10 539.25 354.50 538.70 354.50 537.50 353.50 538.70 352.50 539.25 352.50ZM543.00 350.90 543.75 352.50 544.30 352.50 545.50 353.50 544.30 354.50 543.75 354.50 543.00 356.10 542.25 354.50 541.70 354.50 540.50 353.50 541.70 352.50 542.25 352.50ZM545.00 350.90 545.75 352.50 546.30 352.50 547.50 353.50 546.30 354.50 545.75 354.50 545.00 356.10 544.25 354.50 543.70 354.50 542.50 353.50 543.70 352.50 544.25 352.50ZM548.00 350.90 548.75 352.50 549.30 352.50 550.50 353.50 549.30 354.50 548.75 354.50 548.00 356.10 547.25 354.50 546.70 354.50 545.50 353.50 546.70 352.50 547.25 352.50ZM551.00 350.90 551.75 352.50 552.30 352.50 553.50 353.50 552.30 354.50 551.75 354.50 551.00 356.10 550.25 354.50 549.70 354.50 548.50 353.50 549.70 352.50 550.25 352.50ZM553.00 350.90 553.75 352.50 554.30 352.50 555.50 353.50 554.30 354.50 553.75 354.50 553.00 356.10 552.25 354.50 551.70 354.50 550.50 353.50 551.70 352.50 552.25 352.50ZM556.00 350.90 556.75 352.50 557.30 352.50 558.50 353.50 557.30 354.50 556.75 354.50 556.00 356.10 555.25 354.50 554.70 354.50 553.50 353.50 554.70 352.50 555.25 352.50ZM559.00 350.90 559.75 352.50 560.30 352.50 561.50 353.50 560.30 354.50 559.75 354.50 559.00 356.10 558.25 354.50 557.70 354.50 556.50 353.50 557.70 352.50 558.25 352.50ZM562.00 350.90 562.75 352.50 563.30 352.50 564.50 353.50 563.30 354.50 562.75 354.50 562.00 356.10 561.25 354.50 560.70 354.50 559.50 353.50 560.70 352.50 561.25 352.50ZM566.00 350.90 566.75 352.50 567.30 352.50 568.50 353.50 567.30 354.50 566.75 354.50 566.00 356.10 565.25 354.50 564.70 354.50 563.50 353.50 564.70 352.50 565.25 352.50ZM569.00 350.90 569.75 352.50 570.30 352.50 571.50 353.50 570.30 354.50 569.75 354.50 569.00 356.10 568.25 354.50 567.70 354.50 566.50 353.50 567.70 352.50 568.25 352.50ZM576.00 354.20 576.75 355.80 577.30 355.80 578.50 356.80 577.30 357.80 576.75 357.80 576.00 359.40 575.25 357.80 574.70 357.80 573.50 356.80 574.70 355.80 575.25 355.80ZM579.00 354.20 579.75 355.80 580.30 355.80 581.50 356.80 580.30 357.80 579.75 357.80 579.00 359.40 578.25 357.80 577.70 357.80 576.50 356.80 577.70 355.80 578.25 355.80ZM583.00 354.20 583.75 355.80 584.30 355.80 585.50 356.80 584.30 357.80 583.75 357.80 583.00 359.40 582.25 357.80 581.70 357.80 580.50 356.80 581.70 355.80 582.25 355.80ZM586.00 354.20 586.75 355.80 587.30 355.80 588.50 356.80 587.30 357.80 586.75 357.80 586.00 359.40 585.25 357.80 584.70 357.80 583.50 356.80 584.70 355.80 585.25 355.80ZM589.00 354.20 589.75 355.80 590.30 355.80 591.50 356.80 590.30 357.80 589.75 357.80 589.00 359.40 588.25 357.80 587.70 357.80 586.50 356.80 587.70 355.80 588.25 355.80ZM595.00 354.20 595.75 355.80 596.30 355.80 597.50 356.80 596.30 357.80 595.75 357.80 595.00 359.40 594.25 357.80 593.70 357.80 592.50 356.80 593.70 355.80 594.25 355.80ZM598.00 354.20 598.75 355.80 599.30 355.80 600.50 356.80 599.30 357.80 598.75 357.80 598.00 359.40 597.25 357.80 596.70 357.80 595.50 356.80 596.70 355.80 597.25 355.80ZM600.00 354.20 600.75 355.80 601.30 355.80 602.50 356.80 601.30 357.80 600.75 357.80 600.00 359.40 599.25 357.80 598.70 357.80 597.50 356.80 598.70 355.80 599.25 355.80ZM603.00 354.20 603.75 355.80 604.30 355.80 605.50 356.80 604.30 357.80 603.75 357.80 603.00 359.40 602.25 357.80 601.70 357.80 600.50 356.80 601.70 355.80 602.25 355.80ZM606.00 354.20 606.75 355.80 607.30 355.80 608.50 356.80 607.30 357.80 606.75 357.80 606.00 359.40 605.25 357.80 604.70 357.80 603.50 356.80 604.70 355.80 605.25 355.80ZM609.00 354.20 609.75 355.80 610.30 355.80 611.50 356.80 610.30 357.80 609.75 357.80 609.00 359.40 608.25 357.80 607.70 357.80 606.50 356.80 607.70 355.80 608.25 355.80ZM612.00 354.20 612.75 355.80 613.30 355.80 614.50 356.80 613.30 357.80 612.75 357.80 612.00 359.40 611.25 357.80 610.70 357.80 609.50 356.80 610.70 355.80 611.25 355.80ZM615.00 354.20 615.75 355.80 616.30 355.80 617.50 356.80 616.30 357.80 615.75 357.80 615.00 359.40 614.25 357.80 613.70 357.80 612.50 356.80 613.70 355.80 614.25 355.80ZM618.00 354.20 618.75 355.80 619.30 355.80 620.50 356.80 619.30 357.80 618.75 357.80 618.00 359.40 617.25 357.80 616.70 357.80 615.50 356.80 616.70 355.80 617.25 355.80ZM632.00 359.00 632.75 360.60 633.30 360.60 634.50 361.60 633.30 362.60 632.75 362.60 632.00 364.20 631.25 362.60 630.70 362.60 629.50 361.60 630.70 360.60 631.25 360.60ZM636.00 359.00 636.75 360.60 637.30 360.60 638.50 361.60 637.30 362.60 636.75 362.60 636.00 364.20 635.25 362.60 634.70 362.60 633.50 361.60 634.70 360.60 635.25 360.60ZM640.00 359.00 640.75 360.60 641.30 360.60 642.50 361.60 641.30 362.60 640.75 362.60 640.00 364.20 639.25 362.60 638.70 362.60 637.50 361.60 638.70 360.60 639.25 360.60ZM642.00 359.00 642.75 360.60 643.30 360.60 644.50 361.60 643.30 362.60 642.75 362.60 642.00 364.20 641.25 362.60 640.70 362.60 639.50 361.60 640.70 360.60 641.25 360.60ZM644.00 359.00 644.75 360.60 645.30 360.60 646.50 361.60 645.30 362.60 644.75 362.60 644.00 364.20 643.25 362.60 642.70 362.60 641.50 361.60 642.70 360.60 643.25 360.60ZM648.00 359.00 648.75 360.60 649.30 360.60 650.50 361.60 649.30 362.60 648.75 362.60 648.00 364.20 647.25 362.60 646.70 362.60 645.50 361.60 646.70 360.60 647.25 360.60ZM654.00 359.00 654.75 360.60 655.30 360.60 656.50 361.60 655.30 362.60 654.75 362.60 654.00 364.20 653.25 362.60 652.70 362.60 651.50 361.60 652.70 360.60 653.25 360.60ZM659.00 359.00 659.75 360.60 660.30 360.60 661.50 361.60 660.30 362.60 659.75 362.60 659.00 364.20 658.25 362.60 657.70 362.60 656.50 361.60 657.70 360.60 658.25 360.60ZM666.00 359.00 666.75 360.60 667.30 360.60 668.50 361.60 667.30 362.60 666.75 362.60 666.00 364.20 665.25 362.60 664.70 362.60 663.50 361.60 664.70 360.60 665.25 360.60ZM672.00 359.00 672.75 360.60 673.30 360.60 674.50 361.60 673.30 362.60 672.75 362.60 672.00 364.20 671.25 362.60 670.70 362.60 669.50 361.60 670.70 360.60 671.25 360.60ZM676.00 359.00 676.75 360.60 677.30 360.60 678.50 361.60 677.30 362.60 676.75 362.60 676.00 364.20 675.25 362.60 674.70 362.60 673.50 361.60 674.70 360.60 675.25 360.60ZM680.00 359.00 680.75 360.60 681.30 360.60 682.50 361.60 681.30 362.60 680.75 362.60 680.00 364.20 679.25 362.60 678.70 362.60 677.50 361.60 678.70 360.60 679.25 360.60ZM698.40 370.40 699.15 372.00 699.70 372.00 700.90 373.00 699.70 374.00 699.15 374.00 698.40 375.60 697.65 374.00 697.10 374.00 695.90 373.00 697.10 372.00 697.65 372.00ZM703.30 370.40 704.05 372.00 704.60 372.00 705.80 373.00 704.60 374.00 704.05 374.00 703.30 375.60 702.55 374.00 702.00 374.00 700.80 373.00 702.00 372.00 702.55 372.00ZM708.20 370.40 708.95 372.00 709.50 372.00 710.70 373.00 709.50 374.00 708.95 374.00 708.20 375.60 707.45 374.00 706.90 374.00 705.70 373.00 706.90 372.00 707.45 372.00ZM710.70 370.40 711.45 372.00 712.00 372.00 713.20 373.00 712.00 374.00 711.45 374.00 710.70 375.60 709.95 374.00 709.40 374.00 708.20 373.00 709.40 372.00 709.95 372.00ZM718.10 370.40 718.85 372.00 719.40 372.00 720.60 373.00 719.40 374.00 718.85 374.00 718.10 375.60 717.35 374.00 716.80 374.00 715.60 373.00 716.80 372.00 717.35 372.00ZM720.50 370.40 721.25 372.00 721.80 372.00 723.00 373.00 721.80 374.00 721.25 374.00 720.50 375.60 719.75 374.00 719.20 374.00 718.00 373.00 719.20 372.00 719.75 372.00ZM723.00 370.40 723.75 372.00 724.30 372.00 725.50 373.00 724.30 374.00 723.75 374.00 723.00 375.60 722.25 374.00 721.70 374.00 720.50 373.00 721.70 372.00 722.25 372.00ZM725.50 370.40 726.25 372.00 726.80 372.00 728.00 373.00 726.80 374.00 726.25 374.00 725.50 375.60 724.75 374.00 724.20 374.00 723.00 373.00 724.20 372.00 724.75 372.00ZM727.90 370.40 728.65 372.00 729.20 372.00 730.40 373.00 729.20 374.00 728.65 374.00 727.90 375.60 727.15 374.00 726.60 374.00 725.40 373.00 726.60 372.00 727.15 372.00ZM735.30 370.40 736.05 372.00 736.60 372.00 737.80 373.00 736.60 374.00 736.05 374.00 735.30 375.60 734.55 374.00 734.00 374.00 732.80 373.00 734.00 372.00 734.55 372.00ZM741.50 370.40 742.25 372.00 742.80 372.00 744.00 373.00 742.80 374.00 742.25 374.00 741.50 375.60 740.75 374.00 740.20 374.00 739.00 373.00 740.20 372.00 740.75 372.00ZM745.10 370.40 745.85 372.00 746.40 372.00 747.60 373.00 746.40 374.00 745.85 374.00 745.10 375.60 744.35 374.00 743.80 374.00 742.60 373.00 743.80 372.00 744.35 372.00ZM748.80 370.40 749.55 372.00 750.10 372.00 751.30 373.00 750.10 374.00 749.55 374.00 748.80 375.60 748.05 374.00 747.50 374.00 746.30 373.00 747.50 372.00 748.05 372.00ZM752.50 370.40 753.25 372.00 753.80 372.00 755.00 373.00 753.80 374.00 753.25 374.00 752.50 375.60 751.75 374.00 751.20 374.00 750.00 373.00 751.20 372.00 751.75 372.00ZM759.90 370.40 760.65 372.00 761.20 372.00 762.40 373.00 761.20 374.00 760.65 374.00 759.90 375.60 759.15 374.00 758.60 374.00 757.40 373.00 758.60 372.00 759.15 372.00ZM769.70 370.40 770.45 372.00 771.00 372.00 772.20 373.00 771.00 374.00 770.45 374.00 769.70 375.60 768.95 374.00 768.40 374.00 767.20 373.00 768.40 372.00 768.95 372.00ZM777.60 370.40 778.35 372.00 778.90 372.00 780.10 373.00 778.90 374.00 778.35 374.00 777.60 375.60 776.85 374.00 776.30 374.00 775.10 373.00 776.30 372.00 776.85 372.00ZM787.50 370.40 788.25 372.00 788.80 372.00 790.00 373.00 788.80 374.00 788.25 374.00 787.50 375.60 786.75 374.00 786.20 374.00 785.00 373.00 786.20 372.00 786.75 372.00Z" fill="#d20a2e"/>
<path d="M480.80 350.90 481.55 352.50 482.10 352.50 483.30 353.50 482.10 354.50 481.55 354.50 480.80 356.10 480.05 354.50 479.50 354.50 478.30 353.50 479.50 352.50 480.05 352.50ZM508.00 350.90 508.75 352.50 509.30 352.50 510.50 353.50 509.30 354.50 508.75 354.50 508.00 356.10 507.25 354.50 506.70 354.50 505.50 353.50 506.70 352.50 507.25 352.50ZM513.00 350.90 513.75 352.50 514.30 352.50 515.50 353.50 514.30 354.50 513.75 354.50 513.00 356.10 512.25 354.50 511.70 354.50 510.50 353.50 511.70 352.50 512.25 352.50ZM518.00 350.90 518.75 352.50 519.30 352.50 520.50 353.50 519.30 354.50 518.75 354.50 518.00 356.10 517.25 354.50 516.70 354.50 515.50 353.50 516.70 352.50 517.25 352.50ZM525.00 350.90 525.75 352.50 526.30 352.50 527.50 353.50 526.30 354.50 525.75 354.50 525.00 356.10 524.25 354.50 523.70 354.50 522.50 353.50 523.70 352.50 524.25 352.50ZM546.00 350.90 546.75 352.50 547.30 352.50 548.50 353.50 547.30 354.50 546.75 354.50 546.00 356.10 545.25 354.50 544.70 354.50 543.50 353.50 544.70 352.50 545.25 352.50ZM551.00 350.90 551.75 352.50 552.30 352.50 553.50 353.50 552.30 354.50 551.75 354.50 551.00 356.10 550.25 354.50 549.70 354.50 548.50 353.50 549.70 352.50 550.25 352.50ZM560.00 355.00 560.75 356.60 561.30 356.60 562.50 357.60 561.30 358.60 560.75 358.60 560.00 360.20 559.25 358.60 558.70 358.60 557.50 357.60 558.70 356.60 559.25 356.60ZM565.00 355.00 565.75 356.60 566.30 356.60 567.50 357.60 566.30 358.60 565.75 358.60 565.00 360.20 564.25 358.60 563.70 358.60 562.50 357.60 563.70 356.60 564.25 356.60ZM568.00 355.00 568.75 356.60 569.30 356.60 570.50 357.60 569.30 358.60 568.75 358.60 568.00 360.20 567.25 358.60 566.70 358.60 565.50 357.60 566.70 356.60 567.25 356.60ZM571.00 355.00 571.75 356.60 572.30 356.60 573.50 357.60 572.30 358.60 571.75 358.60 571.00 360.20 570.25 358.60 569.70 358.60 568.50 357.60 569.70 356.60 570.25 356.60ZM583.00 360.10 583.75 361.70 584.30 361.70 585.50 362.70 584.30 363.70 583.75 363.70 583.00 365.30 582.25 363.70 581.70 363.70 580.50 362.70 581.70 361.70 582.25 361.70ZM587.00 360.10 587.75 361.70 588.30 361.70 589.50 362.70 588.30 363.70 587.75 363.70 587.00 365.30 586.25 363.70 585.70 363.70 584.50 362.70 585.70 361.70 586.25 361.70ZM617.20 365.20 617.95 366.80 618.50 366.80 619.70 367.80 618.50 368.80 617.95 368.80 617.20 370.40 616.45 368.80 615.90 368.80 614.70 367.80 615.90 366.80 616.45 366.80ZM643.00 365.20 643.75 366.80 644.30 366.80 645.50 367.80 644.30 368.80 643.75 368.80 643.00 370.40 642.25 368.80 641.70 368.80 640.50 367.80 641.70 366.80 642.25 366.80ZM657.80 365.20 658.55 366.80 659.10 366.80 660.30 367.80 659.10 368.80 658.55 368.80 657.80 370.40 657.05 368.80 656.50 368.80 655.30 367.80 656.50 366.80 657.05 366.80ZM665.20 365.20 665.95 366.80 666.50 366.80 667.70 367.80 666.50 368.80 665.95 368.80 665.20 370.40 664.45 368.80 663.90 368.80 662.70 367.80 663.90 366.80 664.45 366.80ZM700.90 371.80 701.65 373.40 702.20 373.40 703.40 374.40 702.20 375.40 701.65 375.40 700.90 377.00 700.15 375.40 699.60 375.40 698.40 374.40 699.60 373.40 700.15 373.40ZM704.60 371.80 705.35 373.40 705.90 373.40 707.10 374.40 705.90 375.40 705.35 375.40 704.60 377.00 703.85 375.40 703.30 375.40 702.10 374.40 703.30 373.40 703.85 373.40ZM708.20 371.80 708.95 373.40 709.50 373.40 710.70 374.40 709.50 375.40 708.95 375.40 708.20 377.00 707.45 375.40 706.90 375.40 705.70 374.40 706.90 373.40 707.45 373.40ZM730.40 379.70 731.15 381.30 731.70 381.30 732.90 382.30 731.70 383.30 731.15 383.30 730.40 384.90 729.65 383.30 729.10 383.30 727.90 382.30 729.10 381.30 729.65 381.30ZM732.80 379.70 733.55 381.30 734.10 381.30 735.30 382.30 734.10 383.30 733.55 383.30 732.80 384.90 732.05 383.30 731.50 383.30 730.30 382.30 731.50 381.30 732.05 381.30ZM748.80 379.70 749.55 381.30 750.10 381.30 751.30 382.30 750.10 383.30 749.55 383.30 748.80 384.90 748.05 383.30 747.50 383.30 746.30 382.30 747.50 381.30 748.05 381.30ZM787.50 379.70 788.25 381.30 788.80 381.30 790.00 382.30 788.80 383.30 788.25 383.30 787.50 384.90 786.75 383.30 786.20 383.30 785.00 382.30 786.20 381.30 786.75 381.30Z" fill="#2f7bbd"/>
</svg></body></html>
